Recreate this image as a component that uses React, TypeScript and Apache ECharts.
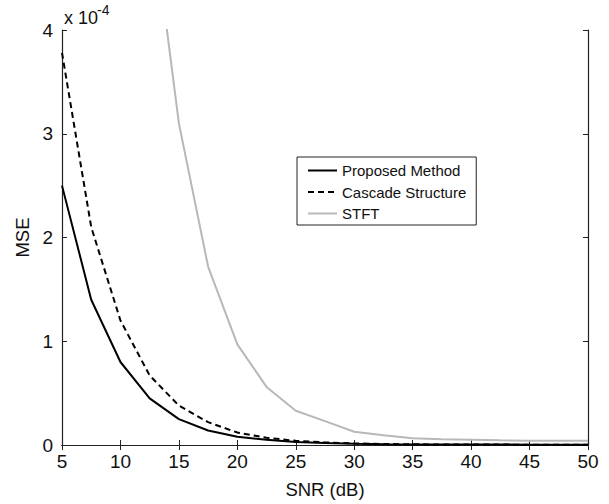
import React, { useEffect, useRef } from "react";
import * as echarts from "echarts";

// SNR values (dB)
const snr: number[] = [5, 7.5, 10, 12.5, 15, 17.5, 20, 22.5, 25, 27.5, 30, 32.5, 35, 37.5, 40, 42.5, 45, 47.5, 50];
// MSE values in units of 1e-4
const proposed: (number | null)[] = [2.5, 1.4, 0.8, 0.45, 0.25, 0.14, 0.08, 0.05, 0.03, 0.02, 0.012, 0.008, 0.006, 0.005, 0.004, 0.004, 0.003, 0.003, 0.003];
const cascade: (number | null)[] = [3.78, 2.1, 1.2, 0.67, 0.38, 0.22, 0.12, 0.07, 0.04, 0.025, 0.015, 0.01, 0.007, 0.005, 0.004, 0.004, 0.003, 0.003, 0.003];
const stft: (number | null)[] = [null, null, null, 5.3, 3.1, 1.72, 0.97, 0.56, 0.33, 0.23, 0.128, 0.095, 0.065, 0.055, 0.05, 0.045, 0.042, 0.04, 0.04];

const seriesNames = ["Proposed Method", "Cascade Structure", "STFT"];
const xTicks = { min: 5, max: 50, interval: 5 };
const yTicks = { min: 0, max: 4, interval: 1 };
const xLabel = "SNR (dB)";
const yLabel = "MSE";
const scaleBase = "x 10";
const scaleExp = "-4";

const FONT = "Liberation Sans, Arial, Helvetica, sans-serif";
const AXIS_COLOR = "#222";
const TEXT_COLOR = "#111";

const pair = (ys: (number | null)[]) => snr.map((x, i) => [x, ys[i]]);

export default function App() {
  const ref = useRef<HTMLDivElement>(null);
  useEffect(() => {
    if (!ref.current) return;
    const chart = echarts.init(ref.current, undefined, { renderer: "svg" });
    const axisLineStyle = { lineStyle: { color: AXIS_COLOR, width: 1.2 } };
    const tickStyle = { inside: true, length: 5, lineStyle: { color: AXIS_COLOR, width: 1 } };
    chart.setOption({
      animation: false,
      backgroundColor: "#fff",
      textStyle: { fontFamily: FONT },
      grid: { left: 62, right: 21, top: 30, bottom: 58, containLabel: false },
      xAxis: [
        {
          type: "value",
          position: "bottom",
          min: xTicks.min,
          max: xTicks.max,
          interval: xTicks.interval,
          name: xLabel,
          nameLocation: "middle",
          nameGap: 35,
          nameTextStyle: { color: TEXT_COLOR, fontSize: 18.5, fontFamily: FONT },
          axisLine: { show: true, ...axisLineStyle },
          axisTick: tickStyle,
          axisLabel: { color: TEXT_COLOR, fontSize: 19, fontFamily: FONT, margin: 7 },
          splitLine: { show: false },
        },
        {
          type: "value",
          position: "top",
          min: xTicks.min,
          max: xTicks.max,
          interval: xTicks.interval,
          axisLine: { show: true, ...axisLineStyle },
          axisTick: tickStyle,
          axisLabel: { show: false },
          splitLine: { show: false },
        },
      ],
      yAxis: [
        {
          type: "value",
          position: "left",
          min: yTicks.min,
          max: yTicks.max,
          interval: yTicks.interval,
          name: yLabel,
          nameLocation: "middle",
          nameGap: 30,
          nameRotate: 90,
          nameTextStyle: { color: TEXT_COLOR, fontSize: 18.5, fontFamily: FONT },
          axisLine: { show: true, ...axisLineStyle },
          axisTick: tickStyle,
          axisLabel: { color: TEXT_COLOR, fontSize: 19, fontFamily: FONT, margin: 9 },
          splitLine: { show: false },
        },
        {
          type: "value",
          position: "right",
          min: yTicks.min,
          max: yTicks.max,
          interval: yTicks.interval,
          axisLine: { show: true, ...axisLineStyle },
          axisTick: tickStyle,
          axisLabel: { show: false },
          splitLine: { show: false },
        },
      ],
      legend: {
        orient: "vertical",
        left: 297,
        top: 157,
        padding: [6, 10, 4, 10],
        itemWidth: 29,
        itemHeight: 14,
        itemGap: 6.5,
        backgroundColor: "#fff",
        borderColor: AXIS_COLOR,
        borderWidth: 1,
        borderRadius: 0,
        itemStyle: { opacity: 0 },
        textStyle: { color: TEXT_COLOR, fontSize: 15, fontFamily: FONT },
        data: seriesNames,
      },
      series: [
        {
          name: seriesNames[0],
          type: "line",
          data: pair(proposed),
          symbol: "none",
          clip: true,
          lineStyle: { color: "#000", width: 2, type: "solid" },
          itemStyle: { color: "#000" },
          z: 4,
        },
        {
          name: seriesNames[1],
          type: "line",
          data: pair(cascade),
          symbol: "none",
          clip: true,
          lineStyle: { color: "#000", width: 2, type: [6, 4] },
          itemStyle: { color: "#000" },
          z: 3,
        },
        {
          name: seriesNames[2],
          type: "line",
          data: pair(stft),
          symbol: "none",
          clip: true,
          connectNulls: false,
          lineStyle: { color: "#b8b8b8", width: 2, type: "solid" },
          itemStyle: { color: "#b8b8b8" },
          z: 2,
        },
      ],
      graphic: [
        {
          type: "text",
          left: 64,
          top: 9,
          style: { text: scaleBase, fontSize: 18, fontFamily: FONT, fill: TEXT_COLOR },
        },
        {
          type: "text",
          left: 97,
          top: 3,
          style: { text: scaleExp, fontSize: 14, fontFamily: FONT, fill: TEXT_COLOR },
        },
      ],
    });
    return () => chart.dispose();
  }, []);
  return (
    <div
      ref={ref}
      style={{ position: "fixed", left: 0, top: 0, width: 609, height: 504, background: "#fff" }}
    />
  );
}
